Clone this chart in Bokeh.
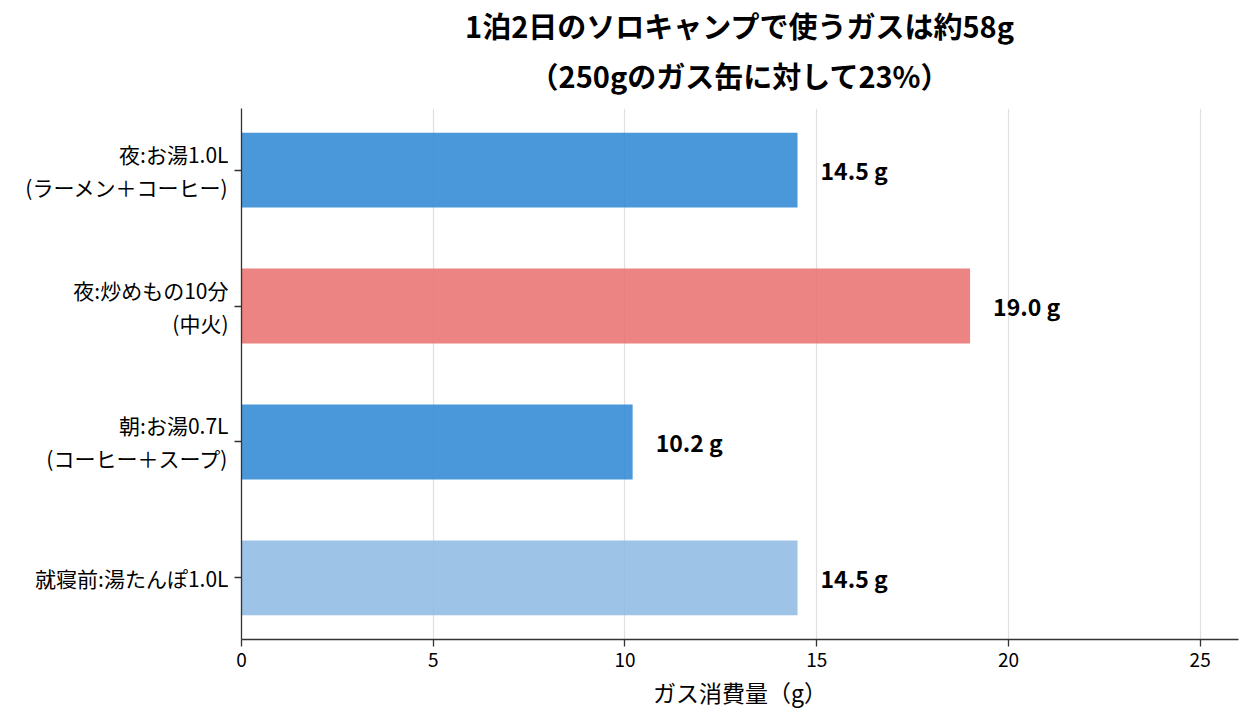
from bokeh.plotting import figure
from bokeh.models import ColumnDataSource, FixedTicker, Title, Range1d
from bokeh.embed import file_html
from bokeh.resources import INLINE
from bokeh.core.properties import value

categories = ["夜:お湯1.0L\n(ラーメン＋コーヒー)", "夜:炒めもの10分\n(中火)",
              "朝:お湯0.7L\n(コーヒー＋スープ)", "就寝前:湯たんぽ1.0L"]
gas_grams = [14.5, 19.0, 10.2, 14.5]
bar_colors = ["#2A86D3", "#E76E6C", "#2A86D3", "#8CB8E2"]
value_labels = ["14.5 g", "19.0 g", "10.2 g", "14.5 g"]
x_ticks = [0, 5, 10, 15, 20, 25]
title_lines = ["1泊2日のソロキャンプで使うガスは約58g", "（250gのガス缶に対して23%）"]

FONT = "Noto Sans CJK JP"
pos = list(range(len(categories)))

src = ColumnDataSource(dict(y=pos, v=gas_grams, c=bar_colors,
                            lx=[g + 0.6 for g in gas_grams], lab=value_labels))

p = figure(width=1244, height=712, output_backend="svg", toolbar_location=None,
           x_range=Range1d(0, 26), y_range=Range1d(3.4525, -0.4525),
           min_border_left=241, min_border_right=6, min_border_top=108,
           min_border_bottom=73)
p.outline_line_color = None
p.background_fill_color = "white"

p.hbar(y="y", right="v", left=0, height=0.55, fill_color="c", fill_alpha=0.85,
       line_color=None, source=src)
p.text(x="lx", y="y", text="lab", source=src, text_font=value(FONT),
       text_font_style="bold", text_font_size="23px", text_align="left",
       text_baseline="middle", text_color="black")

p.title = None
p.add_layout(Title(text=title_lines[1], align="center", text_font=FONT,
                   text_font_size="29px", text_font_style="bold", text_color="black",
                   offset=0, standoff=25, text_line_height=1.0), "above")
p.add_layout(Title(text=title_lines[0], align="center", text_font=FONT,
                   text_font_size="29px", text_font_style="bold", text_color="black",
                   standoff=-12, text_line_height=1.0), "above")

p.xaxis.ticker = FixedTicker(ticks=x_ticks)
p.yaxis.ticker = FixedTicker(ticks=pos)
p.yaxis.major_label_overrides = {i: c for i, c in enumerate(categories)}
p.xaxis.axis_label = "ガス消費量（g）"

for ax in (p.xaxis[0], p.yaxis[0]):
    ax.axis_line_color = "#333333"
    ax.axis_line_width = 1.3
    ax.major_tick_line_color = "#333333"
    ax.major_tick_line_width = 1.3
    ax.major_tick_out = 7
    ax.major_tick_in = 0
    ax.minor_tick_line_color = None
    ax.major_label_text_font = FONT
    ax.major_label_text_color = "black"
    ax.major_label_standoff = 6
p.xaxis.major_label_text_font_size = "19px"
p.yaxis.major_label_text_font_size = "21px"
p.yaxis.major_label_text_line_height = 1.1
p.xaxis.axis_label_text_font = FONT
p.xaxis.axis_label_text_font_size = "23px"
p.xaxis.axis_label_text_font_style = "normal"
p.xaxis.axis_label_text_color = "black"
p.xaxis.axis_label_standoff = 5

p.xgrid.grid_line_color = "#e0e0e0"
p.xgrid.grid_line_width = 1.2
p.ygrid.grid_line_color = None

open("out.html", "w").write(file_html(p, INLINE))
